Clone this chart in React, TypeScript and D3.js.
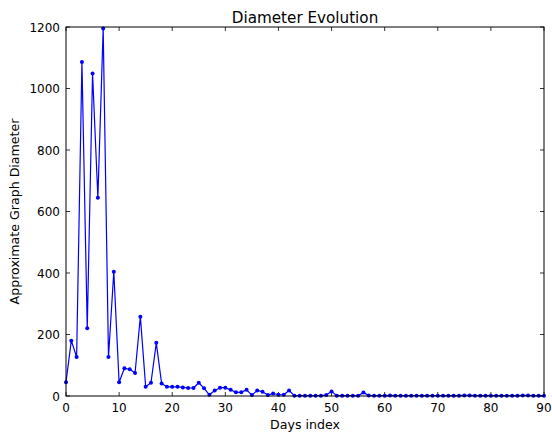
import React from "react";
import * as d3 from "d3";

const days: number[] = Array.from({ length: 91 }, (_, i) => i);
const diameters: number[] = [
  45, 180, 127, 1086, 220, 1049, 645, 1195, 127, 404,
  45, 90, 87, 75, 258, 30, 43, 173, 41, 30,
  30, 30, 28, 26, 26, 43, 25, 4, 18, 27,
  27, 20, 12, 12, 20, 3, 18, 14, 3, 8,
  4, 4, 18, 1, 1, 1, 1, 1, 1, 3,
  15, 1, 1, 1, 1, 1, 11, 2, 1, 1,
  1, 2, 1, 1, 1, 1, 1, 1, 1, 1,
  1, 1, 1, 1, 1, 2, 2, 1, 1, 1,
  1, 1, 1, 1, 1, 1, 2, 2, 1, 1,
  1,
];
const xTicks: number[] = [0, 10, 20, 30, 40, 50, 60, 70, 80, 90];
const yTicks: number[] = [0, 200, 400, 600, 800, 1000, 1200];

const W = 552, H = 433;
const L = 66, R = 544, T = 27, B = 396;

export default function App() {
  const x = d3.scaleLinear().domain([0, 90]).range([L, R]);
  const y = d3.scaleLinear().domain([0, 1200]).range([B, T]);
  const line = d3.line<number>().x((_, i) => x(days[i])).y((d) => y(d));
  const font = "DejaVu Sans, sans-serif";
  return (
    <svg width={W} height={H} style={{ position: "absolute", left: 0, top: 0, background: "#fff" }}>
      <rect x={0} y={0} width={W} height={H} fill="#fff" />
      <text x={(L + R) / 2} y={22.5} textAnchor="middle" fontFamily={font} fontSize={15.2}>Diameter Evolution</text>
      {xTicks.map((t) => (
        <g key={"x" + t}>
          <line x1={x(t)} x2={x(t)} y1={B} y2={B - 4} stroke="#000" strokeWidth={0.8} />
          <line x1={x(t)} x2={x(t)} y1={T} y2={T + 4} stroke="#000" strokeWidth={0.8} />
          <text x={x(t)} y={B + 15.7} textAnchor="middle" fontFamily={font} fontSize={12}>{t}</text>
        </g>
      ))}
      {yTicks.map((t) => (
        <g key={"y" + t}>
          <line x1={L} x2={L + 4} y1={y(t)} y2={y(t)} stroke="#000" strokeWidth={0.8} />
          <line x1={R} x2={R - 4} y1={y(t)} y2={y(t)} stroke="#000" strokeWidth={0.8} />
          <text x={L - 6} y={y(t) + 4.5} textAnchor="end" fontFamily={font} fontSize={12}>{t}</text>
        </g>
      ))}
      <path d={line(diameters) || ""} fill="none" stroke="#0000ff" strokeWidth={1.2} strokeLinejoin="round" />
      {diameters.map((d, i) => (
        <circle key={i} cx={x(days[i])} cy={y(d)} r={2} fill="#0000ff" />
      ))}
      <rect x={L} y={T} width={R - L} height={B - T} fill="none" stroke="#000" strokeWidth={1} />
      <text x={(L + R) / 2} y={428.7} textAnchor="middle" fontFamily={font} fontSize={12.6}>Days index</text>
      <text transform={`translate(18.7,${(T + B) / 2}) rotate(-90)`} textAnchor="middle" fontFamily={font} fontSize={12.6}>Approximate Graph Diameter</text>
    </svg>
  );
}
